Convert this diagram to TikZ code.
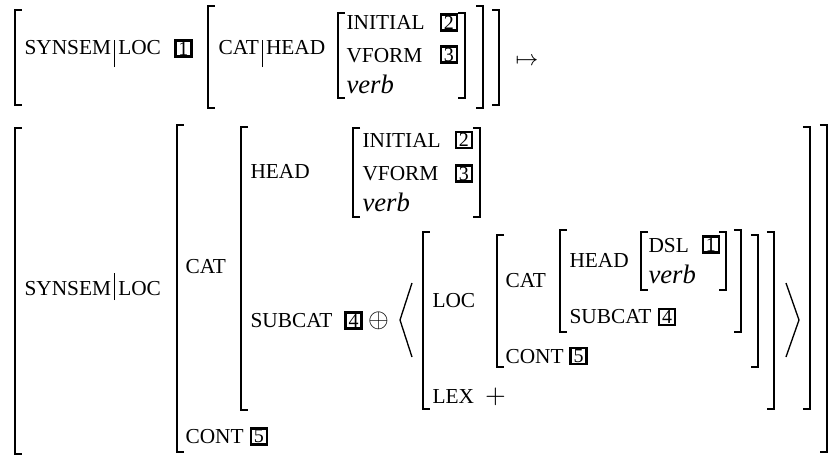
\documentclass[tikz,border=0pt]{standalone}
\usepackage{amsmath,amssymb}
\usepackage{fontspec}
\setmainfont{Liberation Serif}
\usepackage{tikz}
\newcommand{\pathbar}[1]{\hspace{1.1pt}\rule[#1]{0.5pt}{10.3pt}\hspace{1.1pt}}

\begin{document}
\begin{tikzpicture}[x=0.375pt,y=-0.375pt,
    feat/.style={anchor=base west,inner sep=0pt,font=\fontsize{8}{9}\selectfont},
    val/.style={anchor=base west,inner sep=0pt,font=\fontsize{10}{12}\selectfont\itshape},
    tag/.style={draw,line width=0.95pt,minimum size=5.9pt,inner sep=0pt,
      font=\fontsize{7.5}{7.5}\selectfont},
    brk/.style={line width=0.6pt,line cap=butt},
    ang/.style={line width=0.5pt}]
    \useasboundingbox (0,0) rectangle (838,455);
    \clip (0,0) rectangle (838,455);
    % brackets: x / top / bottom
    \foreach \x/\t/\b in {15/10/105, 208/6/108, 338/13/98,
        15/128/454, 177/125/452, 241/127/410, 353/128/217,
        423/232/409, 497/235/367, 560/230/332, 641/232/290}
      \draw[brk] (\x+7,\t) -- (\x,\t) -- (\x,\b) -- (\x+7,\b);
    \foreach \x/\t/\b in {465/13/98, 483/6/108, 499/10/105,
        480/128/217, 726/232/290, 741/230/332, 758/235/367,
        774/232/409, 810/127/409, 827/125/452, 845/128/454}
      \draw[brk] (\x-7,\t) -- (\x,\t) -- (\x,\b) -- (\x-7,\b);
    % left-hand side
    \node[feat] (syn1) at (24,54) {SYNSEM\pathbar{-4.9pt}LOC};
    \node[tag] (t1a) at (183.5,48.5) {1};
    \node[feat] (cathd1) at (218,54) {CAT\pathbar{-4.9pt}HEAD};
    \node[feat] (ini1) at (346,29) {INITIAL};
    \node[feat] (vf1) at (346,62) {VFORM};
    \node[val] (vb1) at (346,93) {verb};
    \node[tag] (t2a) at (449,22.5) {2};
    \node[tag] (t3a) at (449,54.5) {3};
    \node[inner sep=0pt,font=\fontsize{8.3}{9}\selectfont] (maps) at (527,61) {$\mapsto$};
    % right-hand side
    \node[feat] (syn2) at (24,295) {SYNSEM\pathbar{-1.9pt}LOC};
    \node[feat] (cat2) at (185,273) {CAT};
    \node[feat] (cont2) at (185,443) {CONT};
    \node[tag] (t5a) at (259,436.5) {5};
    \node[feat] (hd2) at (250,178) {HEAD};
    \node[feat] (ini2) at (362,147) {INITIAL};
    \node[feat] (vf2) at (362,180) {VFORM};
    \node[val] (vb2) at (362,211) {verb};
    \node[tag] (t2b) at (464,140) {2};
    \node[tag] (t3b) at (464,173.5) {3};
    \node[feat] (sub2) at (250,327) {SUBCAT};
    \node[tag] (t4a) at (353.5,320.5) {4};
    \node[inner sep=0pt] (app) at (378.5,321) {$\oplus$};
    \draw[ang] (412,283) -- (400,320) -- (412,357);
    \draw[ang] (786,283) -- (799,320) -- (786,357);
    \node[feat] (loc3) at (432,307) {LOC};
    \node[feat] (lex3) at (432,403) {LEX};
    \node[inner sep=0pt] (plus) at (495.5,397) {$+$};
    \node[feat] (cat3) at (505,287) {CAT};
    \node[feat] (cont3) at (505,363) {CONT};
    \node[tag] (t5b) at (578.5,356) {5};
    \node[feat] (hd3) at (569,267) {HEAD};
    \node[feat] (sub3) at (569,323) {SUBCAT};
    \node[tag] (t4b) at (667,317) {4};
    \node[feat] (dsl3) at (648,252) {DSL};
    \node[tag] (t1b) at (711,244.5) {1};
    \node[val] (vb3) at (648,283) {verb};
  \end{tikzpicture}
\end{document}
